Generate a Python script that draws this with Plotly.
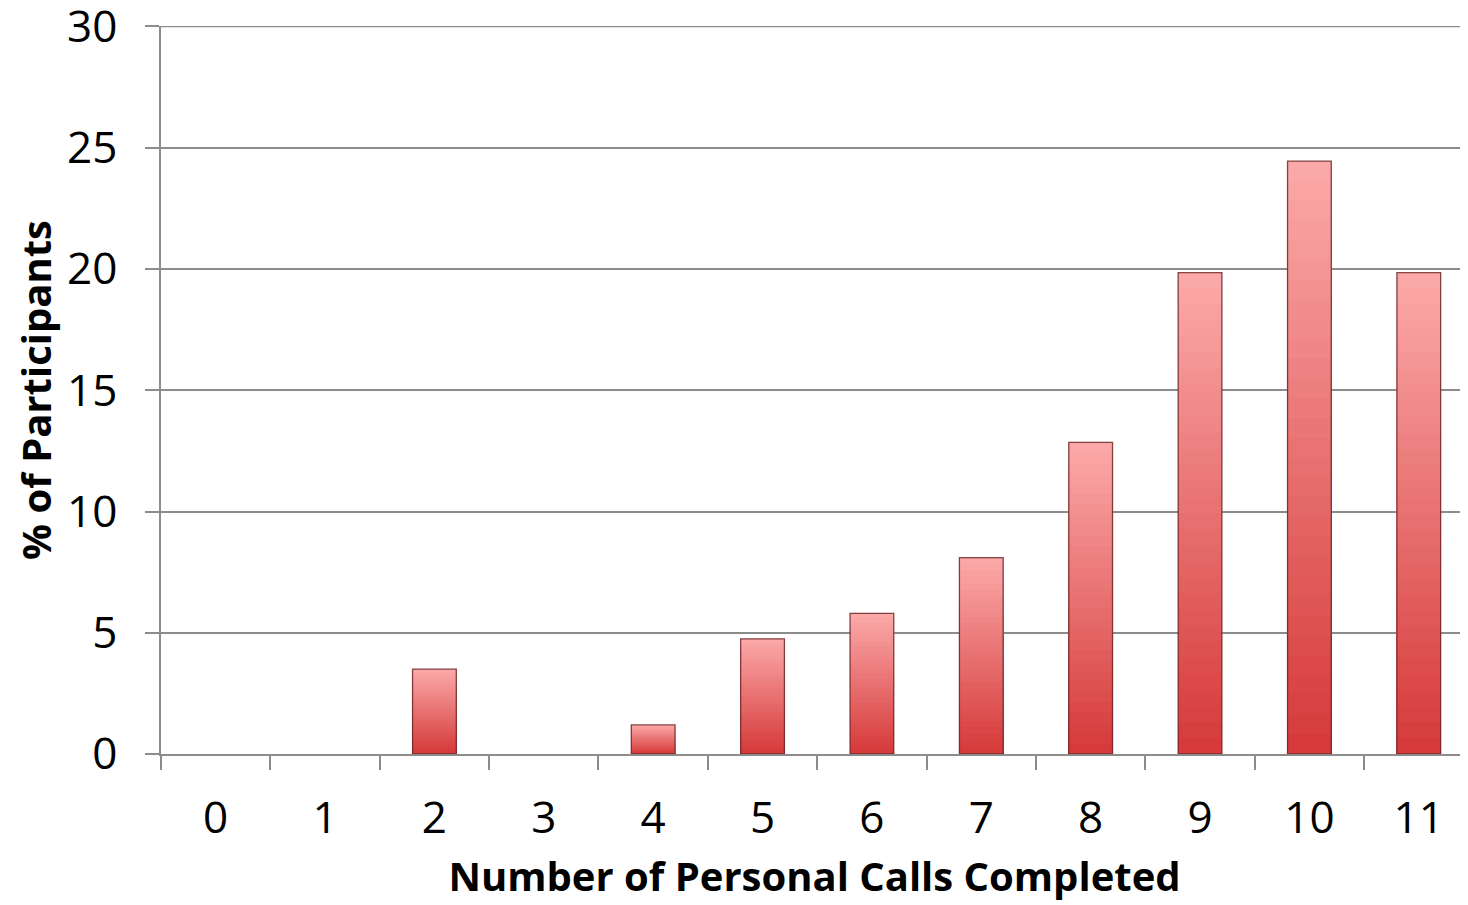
import plotly.graph_objects as go

categories = [0, 1, 2, 3, 4, 5, 6, 7, 8, 9, 10, 11]
percent = [0, 0, 3.5, 0, 1.2, 4.75, 5.8, 8.1, 12.85, 19.85, 24.45, 19.85]
y_ticks = [0, 5, 10, 15, 20, 25, 30]

FONT = "Open Sans"
GRID = "#8c8c8c"
top_rgb = (251, 168, 168)
bot_rgb = (214, 58, 58)
N = 30

shown = [v if v > 0 else None for v in percent]

fig = go.Figure()
# vertical gradient simulated by overlaid bars of shrinking height
for k in range(N):
    f = 1 - k / N
    t = k / (N - 1)
    r = round(top_rgb[0] + (bot_rgb[0] - top_rgb[0]) * t)
    g = round(top_rgb[1] + (bot_rgb[1] - top_rgb[1]) * t)
    b = round(top_rgb[2] + (bot_rgb[2] - top_rgb[2]) * t)
    fig.add_trace(go.Bar(
        x=categories, y=[v * f if v is not None else None for v in shown], width=0.4,
        marker=dict(color=f"rgb({r},{g},{b})", line=dict(width=0)),
        showlegend=False, hoverinfo="skip"))
# outline
fig.add_trace(go.Bar(
    x=categories, y=shown, width=0.4,
    marker=dict(color="rgba(0,0,0,0)", line=dict(width=1.3, color="rgba(110,40,40,0.85)")),
    showlegend=False))

# top gridline (plotly omits the one at the range edge)
fig.add_shape(type="line", xref="paper", x0=0, x1=1, yref="y", y0=y_ticks[-1], y1=y_ticks[-1],
              line=dict(color=GRID, width=1.5), layer="below")

fig.update_layout(
    barmode="overlay",
    width=1460, height=897,
    margin=dict(l=153, r=0, t=18, b=151),
    paper_bgcolor="white", plot_bgcolor="white",
    font=dict(family=FONT, size=44, color="black"),
    xaxis=dict(
        range=[-0.5, 11.45], tickmode="array", tickvals=categories,
        ticktext=[str(c) for c in categories],
        ticks="", showgrid=False, zeroline=False, automargin=False,
        showline=True, linecolor=GRID, linewidth=1.5,
        ticklabelstandoff=24, ticklabeloverflow="allow",
        minor=dict(ticks="outside", ticklen=14, tickcolor=GRID, tickwidth=1.5,
                   tick0=-0.5, dtick=1, showgrid=False),
        title=dict(text="<b>Number of Personal Calls Completed</b>", font=dict(size=40), standoff=18),
    ),
    yaxis=dict(
        range=[0, 30.02], tickmode="array", tickvals=y_ticks,
        ticks="outside", ticklen=14, tickcolor=GRID, tickwidth=1.5,
        showgrid=True, gridcolor=GRID, gridwidth=1.5, zeroline=False, automargin=False,
        showline=True, linecolor=GRID, linewidth=1.5,
        ticklabelstandoff=19, ticklabeloverflow="allow",
        title=dict(text="<b>% of Participants</b>", font=dict(size=40), standoff=20),
    ),
)

fig.write_html("out.html")
